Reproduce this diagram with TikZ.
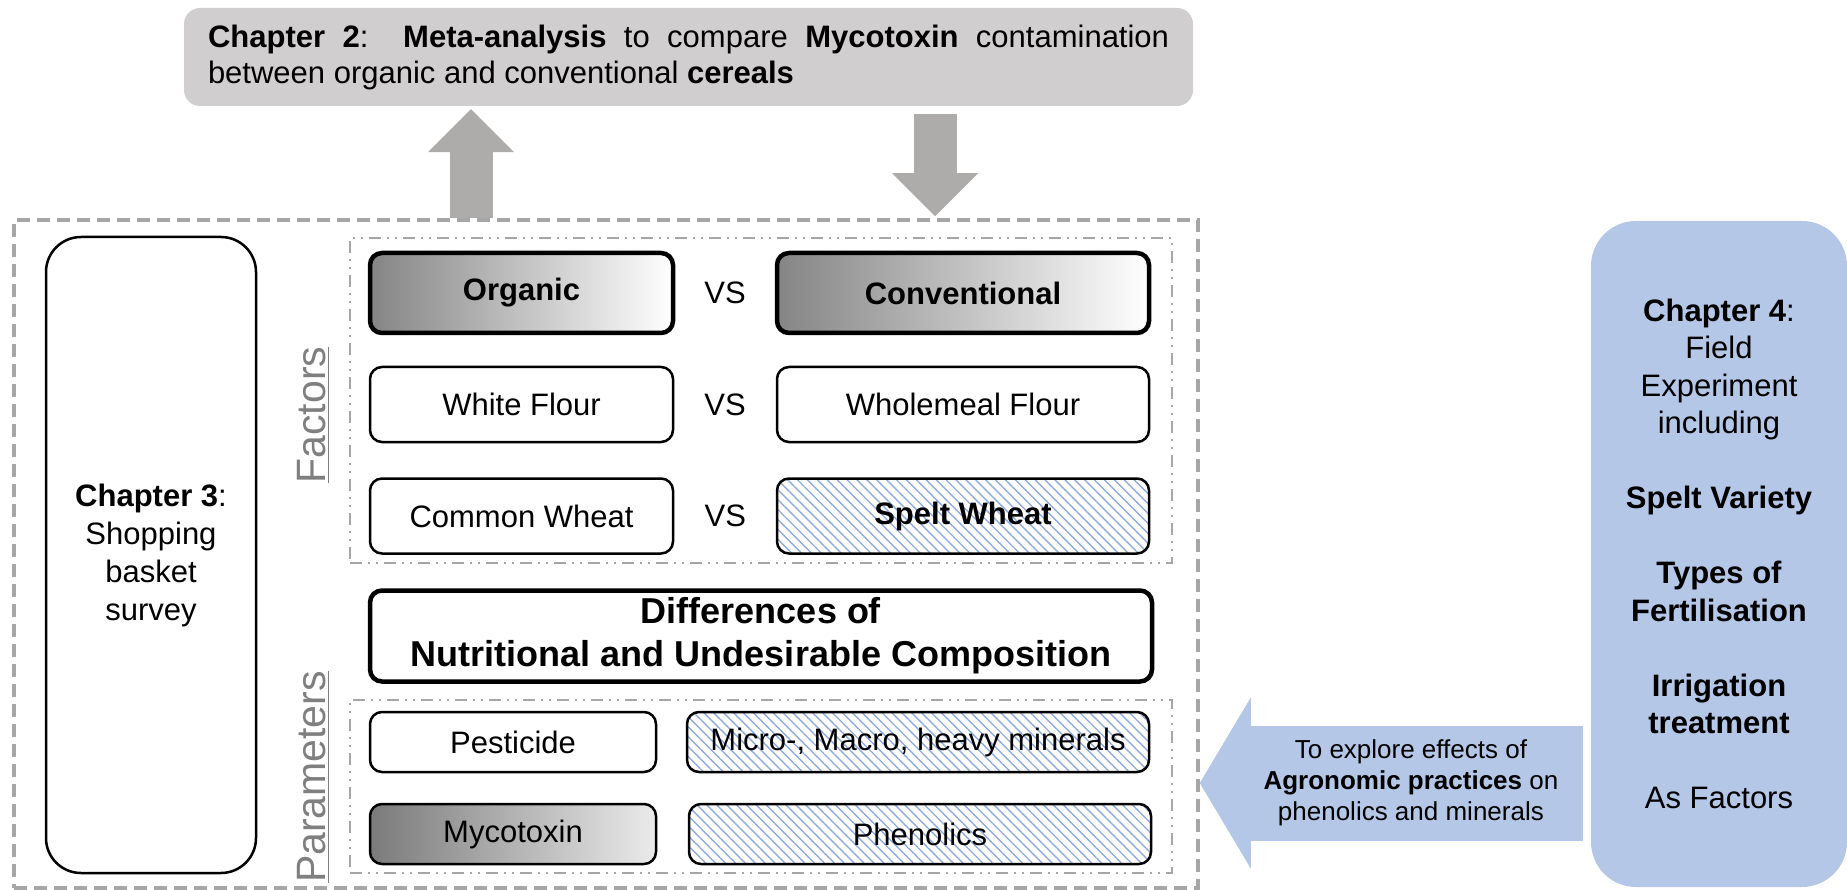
\documentclass[tikz,border=0pt]{standalone}
\usepackage{fontspec}
\setmainfont{Liberation Sans}
\usepackage{tikz}
\usepackage{xcolor}
\usetikzlibrary{arrows.meta,patterns.meta,calc}
\definecolor{chapgray}{HTML}{D0CECE}
\definecolor{arrowgray}{HTML}{AEABAB}
\definecolor{framegray}{HTML}{A6A6A6}
\definecolor{labelgray}{HTML}{7F7F7F}
\definecolor{lightblue}{HTML}{B4C7E7}
\definecolor{hatchblue}{HTML}{8FAADC}
\tikzset{%
  tipG/.tip={Triangle[length=43pt,width=86pt,line width=0pt]},
  tipB/.tip={Triangle[length=51pt,width=171pt,line width=0pt]},
  %tipC/.tip={Stealth[length=20pt]}
}
\tikzset{%
  box/.style={draw=black, line width=2.5pt, rounded corners=12pt, inner sep=0pt,
    align=center, font=\fontsize{31}{37}\selectfont},
  thickbox/.style={box, line width=4.5pt, font=\fontsize{31}{37}\selectfont\bfseries},
  hatchbox/.style={box, pattern={Lines[angle=-45,distance=7pt,line width=1.4pt]},
    pattern color=hatchblue},
  vs/.style={inner sep=0pt, font=\fontsize{31}{37}\selectfont},
  sidelabel/.style={rotate=90, inner sep=0pt, text=labelgray, font=\fontsize{41}{41}\selectfont},
  dashframe/.style={draw=framegray, line width=3.5pt, dash pattern=on 13pt off 7pt, inner sep=0pt},
  dotframe/.style={draw=framegray, line width=2.5pt,
    dash pattern=on 12pt off 6pt on 2pt off 6pt on 2pt off 6pt, inner sep=0pt},
  grayarrow/.style={draw=arrowgray, line width=43pt},
  bluearrow/.style={draw=lightblue, line width=115pt}
}

\begin{document}
\begin{tikzpicture}[x=1pt,y=-1pt]
\useasboundingbox (0,0) rectangle (1847,890);
% chapter 2
\node[fill=chapgray, rounded corners=16pt, minimum height=98pt, text width=961pt,
  inner xsep=24pt, inner ysep=0pt, align=justify, font=\fontsize{31}{36}\selectfont] (ch2) at (688.5,57)
  {\textbf{Chapter 2}:\ \ \textbf{Meta-analysis} to compare \textbf{Mycotoxin} contamination\linebreak
   between organic and conventional \textbf{cereals}};
% frames
\node[dashframe, minimum width=1184pt, minimum height=668pt] (survey) at (606,554) {};
\node[dotframe, minimum width=822pt, minimum height=325pt] (factfr) at (761,400.5) {};
\node[dotframe, minimum width=822pt, minimum height=173pt] (parfr) at (761,786.5) {};
% chapter 3
\node[box, rounded corners=35pt, minimum width=210pt, minimum height=636pt,
  font=\fontsize{31}{38}\selectfont] (ch3) at (151,555)
  {\textbf{Chapter 3}:\\Shopping\\basket\\survey};
\node[sidelabel] (factlab) at (313,415) {\underline{Factors}};
\node[sidelabel] (parlab) at (313,777) {\underline{Parameters}};
% factors
\node[thickbox, left color=black!48, right color=white, minimum width=303pt, minimum height=80pt] (org) at (521.5,293) {Organic};
\node[thickbox, left color=black!48, right color=white, minimum width=372pt, minimum height=80pt] (conv) at (963,293) {Conventional};
\node[box, minimum width=303pt, minimum height=75pt] (white) at (521.5,404.5) {White Flour};
\node[box, minimum width=372pt, minimum height=75pt] (whole) at (963,404.5) {Wholemeal Flour};
\node[box, minimum width=303pt, minimum height=75pt] (common) at (521.5,516) {Common Wheat};
\node[hatchbox, minimum width=372pt, minimum height=75pt] (spelt) at (963,516) {\textbf{Spelt Wheat}};
\node[vs] (vs1) at ($(org.east)!0.5!(conv.west)$) {VS};
\node[vs] (vs2) at ($(white.east)!0.5!(whole.west)$) {VS};
\node[vs] (vs3) at ($(common.east)!0.5!(spelt.west)$) {VS};
% differences
\node[thickbox, minimum width=782pt, minimum height=91pt, font=\fontsize{36}{43}\selectfont\bfseries] (diff) at (761,636)
  {Differences of\\Nutritional and Undesirable Composition};
% parameters
\node[box, minimum width=286pt, minimum height=60pt] (pest) at (513,742) {Pesticide};
\node[hatchbox, minimum width=462pt, minimum height=60pt] (mins) at (918,742) {Micro-, Macro, heavy minerals};
\node[box, left color=black!52, right color=black!8, minimum width=286pt, minimum height=60pt] (myco) at (513,834) {Mycotoxin};
\node[hatchbox, minimum width=462pt, minimum height=60pt] (phen) at (920,834) {Phenolics};
% chapter 4
\node[fill=lightblue, rounded corners=45pt, minimum width=256pt, minimum height=666pt, inner sep=0pt,
  align=center, font=\fontsize{31}{37.5}\selectfont] (ch4) at (1719,554)
  {\textbf{Chapter 4}:\\Field\\Experiment\\including\\[37.5pt]\textbf{Spelt Variety}\\[37.5pt]
   \textbf{Types of}\\\textbf{Fertilisation}\\[37.5pt]\textbf{Irrigation}\\\textbf{treatment}\\[37.5pt]As Factors};
% arrows
\draw[grayarrow, -tipG, shorten >=3pt] (471,0 |- survey.north) -- (471,0 |- ch2.south);
\draw[grayarrow, -tipG, shorten <=8pt, shorten >=2pt] (935,0 |- ch2.south) -- (935,0 |- survey.north);
\draw[bluearrow, -tipB, shorten <=8pt] (ch4.west |- 0,783) -- (survey.east |- 0,783)
  node[pos=0.46, inner sep=0pt, align=center, text=black, font=\fontsize{26}{31}\selectfont] (agro)
  {To explore effects of\\\textbf{Agronomic practices} on\\phenolics and minerals};
\end{tikzpicture}
\end{document}
